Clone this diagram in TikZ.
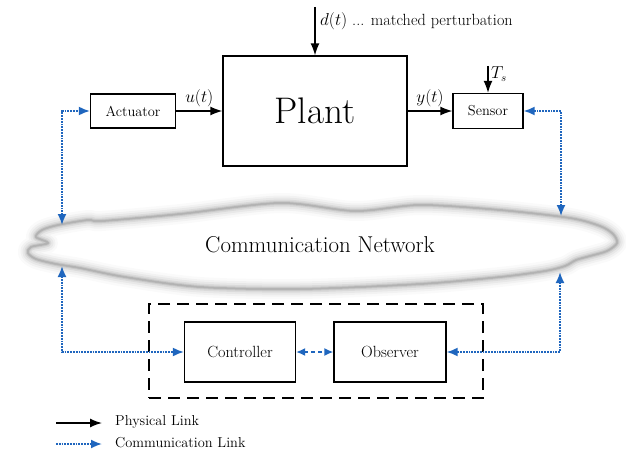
\documentclass[tikz,border=0pt]{standalone}
\usepackage{fontspec}
\usetikzlibrary{arrows.meta}
\definecolor{commblue}{RGB}{31,102,190}

\tikzset{
  txt/.style={font=\fontsize{14.4}{17}\selectfont, inner sep=1pt},
  lbl/.style={font=\fontsize{16.2}{19}\selectfont, inner sep=1pt},
  blockbox/.style={draw, line width=1.3pt, inner sep=0pt, txt},
  phys/.style={line width=1.4pt, -{Latex[length=12pt,width=9pt]}},
  commline/.style={commblue, line width=1.8pt, densely dotted},
  comm/.style={commline, {Latex[length=11pt,width=9pt]}-{Latex[length=11pt,width=9pt]}},
  commone/.style={commline, -{Latex[length=11pt,width=9pt]}},
  commdash/.style={commblue, line width=1.5pt, dash pattern=on 4pt off 3pt,
    {Latex[length=9pt,width=8pt]}-{Latex[length=9pt,width=8pt]}},
}

\begin{document}
\begin{tikzpicture}[x=1pt,y=-1pt]
  \useasboundingbox (0,0) rectangle (626,452);

  % ---- cloud of the network -------------------------------------------
  \path[save path=\cloudsaved] plot[smooth cycle, tension=0.5] coordinates {
    (36,259) (56,264) (80,268) (125,277) (200,287) (300,289) (420,284)
    (500,277) (545,271) (565,266) (576,260) (590,256) (607,251) (617,243)
    (613,234) (600,226) (570,218) (500,210) (420,205) (355,211) (280,203)
    (180,214) (102,221) (88,220) (58,225) (42,230) (36,237) (48,243)
    (31,247) (28,253)};
  \begin{scope}[yshift=-3pt]
    \foreach \w/\o in {20/0.02,15/0.03,11/0.045,7/0.06,4/0.08,2/0.1}
      \draw[use path=\cloudsaved, line width=\w pt, black, opacity=\o, line join=round];
  \end{scope}
  \shade[use path=\cloudsaved, top color=gray!12, bottom color=gray!30, middle color=white];
  \draw[use path=\cloudsaved, gray!60, line width=0.6pt];
  \node[txt, font=\fontsize{22.9}{26}\selectfont] (net) at (320,245) {Communication Network};
  \coordinate (netTL) at (62,225);
  \coordinate (netBL) at (62,266);
  \coordinate (netTR) at (561,216);
  \coordinate (netBR) at (560,272);

  % ---- plant side --------------------------------------------------------
  \node[blockbox, minimum width=184pt, minimum height=110pt,
        font=\fontsize{37}{42}\selectfont] (plant) at (315,111) {Plant};
  \node[blockbox, minimum width=85pt, minimum height=34pt] (act) at (133,111) {Actuator};
  \node[blockbox, minimum width=70pt, minimum height=35pt] (sens) at (488,111) {Sensor};

  \coordinate (dtop) at (315,7);
  \draw[phys] (dtop) -- (plant.north);
  \node[lbl, anchor=west] (dlbl) at (319,21) {$d(t)$ ... matched perturbation};

  \draw[phys] (act) -- (plant) node[lbl, midway, above=2pt] (ulbl) {$u(t)$};
  \draw[phys] (plant) -- (sens) node[lbl, midway, above=2pt] (ylbl) {$y(t)$};

  \coordinate (tstop) at (488,66);
  \draw[phys] (tstop) -- (sens.north);
  \node[lbl, anchor=west] (tslbl) at (490,74) {$T_s$};

  % ---- controller side ---------------------------------------------------
  \node[draw, line width=2.2pt, dash pattern=on 12pt off 7pt,
        minimum width=334pt, minimum height=94pt] (group) at (316,351) {};
  \node[blockbox, lbl, minimum width=111pt, minimum height=60pt] (ctrl) at (240,352) {Controller};
  \node[blockbox, lbl, minimum width=112pt, minimum height=60pt] (obs) at (390,352) {Observer};
  \draw[commdash] (ctrl) -- (obs);

  % ---- communication links -----------------------------------------------
  \draw[comm] (netTL) |- (act.west);
  \draw[comm] (netTR) |- (sens.east);
  \draw[comm] (netBL) |- (ctrl.west);
  \draw[comm] (netBR) |- (obs.east);

  % ---- legend ------------------------------------------------------------
  \coordinate (lp1) at (56,423);
  \coordinate (lp2) at (102,423);
  \draw[phys] (lp1) -- (lp2);
  \node[txt, anchor=west] (lptxt) at (114,422) {Physical Link};
  \coordinate (lc1) at (56,444);
  \coordinate (lc2) at (102,444);
  \draw[commone] (lc1) -- (lc2);
  \node[txt, anchor=west] (lctxt) at (114,443) {Communication Link};
\end{tikzpicture}
\end{document}
